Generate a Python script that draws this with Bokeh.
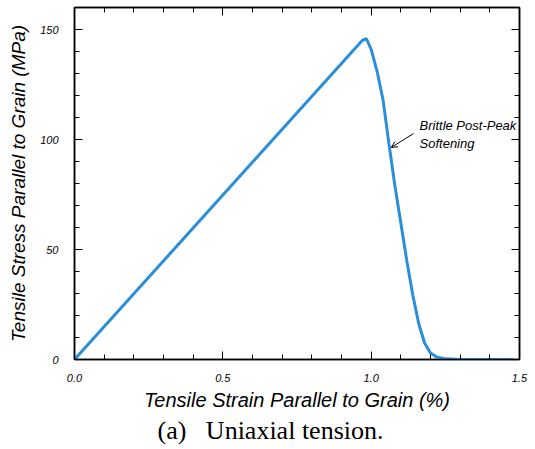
from bokeh.plotting import figure
from bokeh.models import (LinearAxis, SingleIntervalTicker, Range1d, Title, Label,
                          Arrow, OpenHead, NumeralTickFormatter)
from bokeh.embed import file_html
from bokeh.resources import INLINE

# Data
strain = [0.0, 0.90, 0.95, 0.97, 0.984, 1.00, 1.02, 1.04, 1.06, 1.08, 1.10, 1.12,
          1.14, 1.16, 1.18, 1.20, 1.22, 1.25, 1.30, 1.40, 1.48]
stress = [0.0, 134.5, 142.0, 145.0, 145.8, 141.0, 131.0, 118.0, 98.0, 79.0, 62.0, 45.0,
          29.5, 16.5, 7.5, 3.0, 1.2, 0.3, 0.05, 0.0, 0.0]

x_ticks = [0.0, 0.5, 1.0, 1.5]
y_ticks = [0, 50, 100, 150]

x_label = "Tensile Strain Parallel to Grain (%)"
y_label = "Tensile Stress Parallel to Grain (MPa)"
caption = "(a)\u00a0\u00a0\u00a0Uniaxial tension."
note_text = "Brittle Post-Peak\nSoftening"
note_pos = (1.163, 110.0)
arrow_from = (1.143, 102.7)
arrow_to = (1.068, 96.4)

SANS = "Liberation Sans"

p = figure(width=535, height=449, output_backend="svg", toolbar_location=None,
           x_range=Range1d(0, 1.5), y_range=Range1d(0, 160),
           x_axis_type=None, y_axis_type=None,
           min_border_left=74, min_border_right=16, min_border_top=7, min_border_bottom=90)
p.grid.visible = False
p.outline_line_color = "black"
p.outline_line_width = 1.5
p.background_fill_color = "white"
p.border_fill_color = "white"

xt = SingleIntervalTicker(interval=0.5, num_minor_ticks=5)
yt = SingleIntervalTicker(interval=50, num_minor_ticks=5)


def style(ax, labels=True, ticks=None):
    ax.axis_line_color = "black"
    ax.axis_line_width = 1.5
    ax.major_tick_in = 8
    ax.major_tick_out = 0
    ax.minor_tick_in = 5
    ax.minor_tick_out = 0
    ax.major_tick_line_color = "black"
    ax.minor_tick_line_color = "black"
    ax.major_tick_line_width = 1
    ax.minor_tick_line_width = 1
    if labels:
        ax.major_label_text_font = SANS
        ax.major_label_text_font_style = "italic"
        ax.major_label_text_font_size = "11px"
        ax.major_label_text_color = "black"
        ax.axis_label_text_font = SANS
        ax.axis_label_text_font_style = "italic"
        ax.axis_label_text_color = "black"
    else:
        ax.major_label_overrides = {t: "" for t in ticks}
        ax.major_label_standoff = 0


xb = LinearAxis(ticker=xt, axis_label=x_label,
                formatter=NumeralTickFormatter(format="0.0"))
style(xb)
xb.major_label_standoff = 14
xb.axis_label_standoff = 4
xb.axis_label_text_font_size = "20px"
p.add_layout(xb, "below")

yl = LinearAxis(ticker=yt, axis_label=y_label)
style(yl)
yl.major_label_standoff = 16
yl.axis_label_standoff = 8
yl.axis_label_text_font_size = "19px"
p.add_layout(yl, "left")

xa = LinearAxis(ticker=xt)
style(xa, labels=False, ticks=x_ticks)
p.add_layout(xa, "above")

yr = LinearAxis(ticker=yt)
style(yr, labels=False, ticks=y_ticks)
p.add_layout(yr, "right")

p.line(strain, stress, line_color="#2a8fd8", line_width=3)

p.add_layout(Label(x=note_pos[0], y=note_pos[1], text=note_text,
                   text_font=SANS, text_font_style="italic", text_font_size="13px",
                   text_baseline="top", text_color="black"))
p.add_layout(Arrow(x_start=arrow_from[0], y_start=arrow_from[1],
                   x_end=arrow_to[0], y_end=arrow_to[1], line_width=1,
                   end=OpenHead(size=6, line_width=1)))

cap = Title(text=caption, align="left", offset=83, text_font="Liberation Serif",
            text_font_size="26px", text_font_style="normal", text_color="black",
            standoff=0)
p.add_layout(cap, "below")

open("out.html", "w").write(file_html(p, INLINE))
